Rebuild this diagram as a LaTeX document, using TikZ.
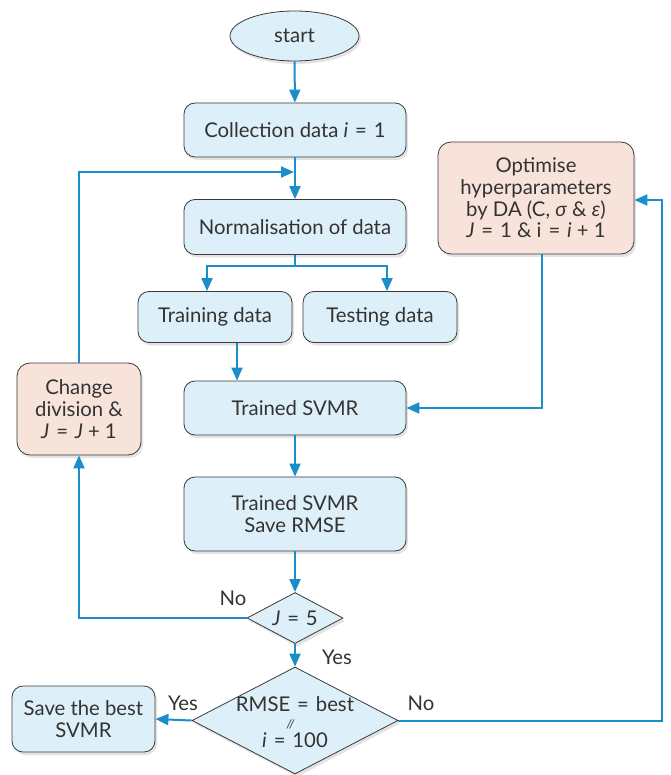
\documentclass[tikz,border=0pt]{standalone}
\usepackage{fontspec}
\setmainfont{Lato}
\usetikzlibrary{shapes.geometric,arrows.meta,shadows}
\definecolor{boxblue}{HTML}{DDEFF8}
\definecolor{boxpink}{HTML}{F8E3DB}
\definecolor{arr}{HTML}{1B8DC9}
\definecolor{edge}{HTML}{3A3A3A}
\definecolor{txt}{HTML}{333333}
\newcommand{\eqq}{\hspace{0.34em}=\hspace{0.34em}}
\newcommand{\plusq}{\hspace{0.25em}+\hspace{0.25em}}
\begin{document}
\begin{tikzpicture}[x=1pt,y=-1pt,
  base/.style={draw=edge, line width=0.8pt, font=\fontsize{20.3}{21.7}\selectfont, align=center, text=txt, inner sep=0pt,
    drop shadow={opacity=0.22, shadow xshift=2pt, shadow yshift=-3pt}},
  bluebox/.style={base, fill=boxblue, rounded corners=11pt},
  pinkbox/.style={base, fill=boxpink, rounded corners=13pt},
  dia/.style={base, diamond, fill=boxblue},
  flow/.style={draw=arr, line width=2pt, -{Triangle[length=13pt,width=11pt]}},
  lbl/.style={font=\fontsize{20.3}{21.7}\selectfont, text=txt, align=center}]
\useasboundingbox (0,0) rectangle (670,775);

\node[base, ellipse, fill=boxblue, minimum width=129pt, minimum height=50pt] (start) at (294.5,36) {start};
\node[bluebox, minimum width=222pt, minimum height=54pt] (coll) at (295,130) {Collection data \textit{i}\eqq1};
\node[bluebox, minimum width=222pt, minimum height=55pt] (norm) at (295,227) {Normalisation of data};
\node[bluebox, minimum width=154pt, minimum height=51pt] (train) at (215,317) {Training data};
\node[bluebox, minimum width=154pt, minimum height=51pt] (test) at (380,317) {Testing data};
\node[bluebox, minimum width=222pt, minimum height=54pt] (svmr) at (295,408) {Trained SVMR};
\node[bluebox, minimum width=222pt, minimum height=74pt] (save) at (295,514) {Trained SVMR\\Save RMSE};
\node[dia, minimum width=96pt, minimum height=51pt] (j5) at (295,618) {};
\node[lbl] (j5t) at (j5.center) {\textit{J}\eqq5};
\node[dia, minimum width=206pt, minimum height=107pt] (rm) at (295,720.5) {};
\node[lbl] (rmt) at (295,722) {RMSE\eqq best\\[15pt]\textit{i}\eqq100};
\node[font=\fontsize{12}{13}\selectfont\itshape, text=txt] (orsym) at (290.5,724.5) {//};
\node[bluebox, minimum width=143pt, minimum height=66pt] (best) at (83.5,719) {Save the best\\SVMR};
\node[pinkbox, minimum width=124pt, minimum height=92pt] (change) at (79,409) {Change\\division \&\\\textit{J}\eqq\textit{J}\plusq1};
\node[pinkbox, minimum width=196pt, minimum height=112pt] (opt) at (536,198)
  {Optimise\\hyperparameters\\by DA (C, \textit{σ} \& \textit{ε})\\\textit{J}\eqq1 \& i\eqq\textit{i}\plusq1};

\coordinate (merge) at (295,172);
\draw[flow] (start) -- (coll);
\draw[flow] (coll) -- (norm);
\draw[flow, shorten >=1pt] (change.north) |- (merge);
\draw[flow] (norm.south) -- ++(0,11) -| ([xshift=-8pt]train.north);
\draw[flow] (norm.south) -- ++(0,11) -| ([xshift=7pt]test.north);
\draw[flow] ([xshift=22pt]train.south) -- ([xshift=22pt]train.south |- svmr.north);
\draw[flow] ([xshift=6pt]opt.south) |- (svmr.east);
\draw[flow] (svmr) -- (save);
\draw[flow] (save) -- (j5.north);
\draw[flow] (j5.west) -| (change.south);
\draw[flow] (j5.south) -- (rm.north);
\draw[flow] (rm.west) -- (best.east);
\draw[flow] (rm.east) -- ++(264,0) |- ([yshift=-2pt]opt.east);

\node[lbl] (no1) at (233,598) {No};
\node[lbl] (yes1) at (337,657) {Yes};
\node[lbl] (yes2) at (183,703) {Yes};
\node[lbl] (no2) at (421,703) {No};
\end{tikzpicture}
\end{document}
